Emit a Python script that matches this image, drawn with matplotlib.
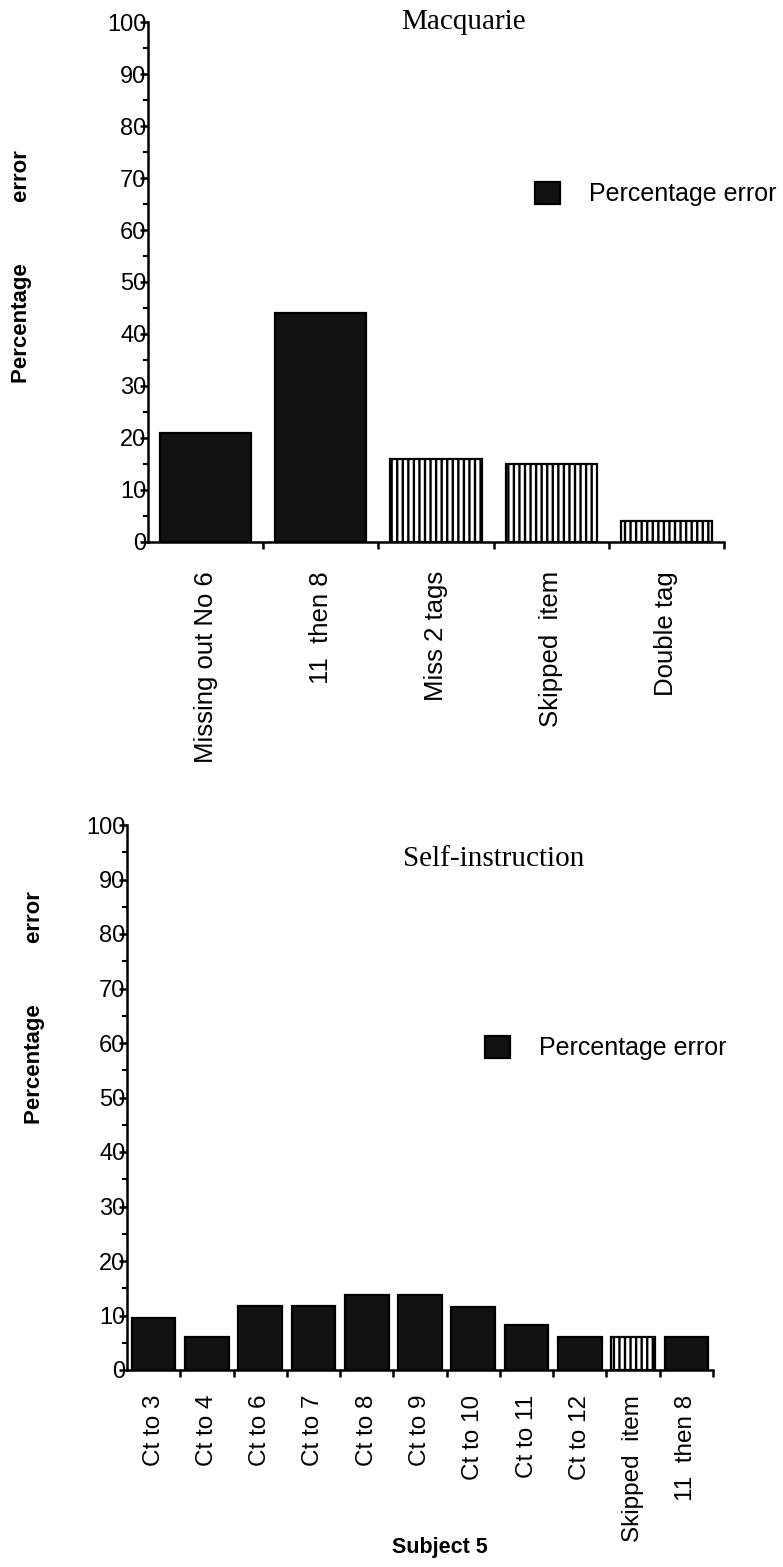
import matplotlib
matplotlib.use("Agg")
import matplotlib.pyplot as plt
import numpy as np

plt.rcParams['font.family'] = ['Liberation Sans', 'DejaVu Sans']
plt.rcParams['hatch.linewidth'] = 1.7
plt.rcParams['hatch.color'] = 'black'

# Macquarie panel
macq_labels = ["Missing out No 6", "11  then 8", "Miss 2 tags", "Skipped  item", "Double tag"]
macq_values = [21, 44, 16, 15, 4]
macq_hatched = [False, False, True, True, True]

# Self-instruction panel
self_labels = ["Ct to 3", "Ct to 4", "Ct to 6", "Ct to 7", "Ct to 8", "Ct to 9",
               "Ct to 10", "Ct to 11", "Ct to 12", "Skipped  item", "11  then 8"]
self_values = [9.6, 6.1, 11.8, 11.8, 13.7, 13.7, 11.6, 8.2, 6.1, 6.1, 6.0]
self_hatched = [False] * 9 + [True, False]

y_ticks = list(range(0, 101, 10))
y_minor = list(range(5, 100, 10))

DARK = '#121212'
W, H = 783, 1567
fig = plt.figure(figsize=(W / 100, H / 100), dpi=100)


def px_axes(left, right, top, bottom):
    return fig.add_axes([left / W, 1 - bottom / H, (right - left) / W, (bottom - top) / H])


def draw_panel(ax, labels, values, hatched, width, label_pad, label_size):
    x = np.arange(len(labels))
    bars = ax.bar(x, values, width=width, color=DARK, edgecolor='black',
                  linewidth=1.6, zorder=2)
    for b, h in zip(bars, hatched):
        if h:
            b.set_facecolor('white')
            b.set_hatch('|||')
    ax.set_xlim(-0.5, len(labels) - 0.5)
    ax.set_ylim(0, 100)
    for s in ('top', 'right'):
        ax.spines[s].set_visible(False)
    for s in ('left', 'bottom'):
        ax.spines[s].set_linewidth(1.8)
    ax.set_yticks(y_ticks)
    ax.set_yticks(y_minor, minor=True)
    ax.tick_params(axis='y', which='major', direction='out', length=6, width=1.8,
                   pad=-5, labelsize=17)
    ax.tick_params(axis='y', which='minor', direction='out', length=3.5, width=1.5)
    # category boundaries carry the tick marks, centres carry the labels
    ax.set_xticks(np.arange(len(labels)) + 0.5)
    ax.set_xticklabels([])
    ax.set_xticks(x, labels, minor=True)
    ax.tick_params(axis='x', which='major', direction='out', length=5, width=1.8)
    ax.tick_params(axis='x', which='minor', length=0, pad=label_pad,
                   labelsize=label_size, labelrotation=90)
    return bars


ax1 = px_axes(148, 724, 22, 542)
bars1 = draw_panel(ax1, macq_labels, macq_values, macq_hatched, 0.79, 21, 18.5)

ax2 = px_axes(127, 713, 825, 1370)
bars2 = draw_panel(ax2, self_labels, self_values, self_hatched, 0.82, 18, 17.5)

for bars, lx, ly in ((bars1, 535, 194), (bars2, 485, 1048)):
    fig.legend([bars[0]], ["Percentage error"], loc='center left',
               bbox_to_anchor=(lx / W, 1 - ly / H), frameon=False, fontsize=18,
               handlelength=1.0, handleheight=1.0, handletextpad=1.15,
               borderpad=0, borderaxespad=0)

fig.text(463 / W, 1 - 29 / H, "Macquarie", family='Liberation Serif', fontsize=21,
         ha='center', va='baseline')
fig.text(494 / W, 1 - 866 / H, "Self-instruction", family='Liberation Serif', fontsize=21,
         ha='center', va='baseline')

ylab = "Percentage" + " " * 10 + "error"
fig.text(22 / W, 1 - 267 / H, ylab, rotation=90, fontsize=16, fontweight='bold',
         ha='center', va='center')
fig.text(35 / W, 1 - 1008 / H, ylab, rotation=90, fontsize=16, fontweight='bold',
         ha='center', va='center')

fig.text(440 / W, 1 - 1548 / H, "Subject 5", fontsize=15.5, fontweight='bold',
         ha='center', va='center')

fig.savefig("out.png", dpi=100)
